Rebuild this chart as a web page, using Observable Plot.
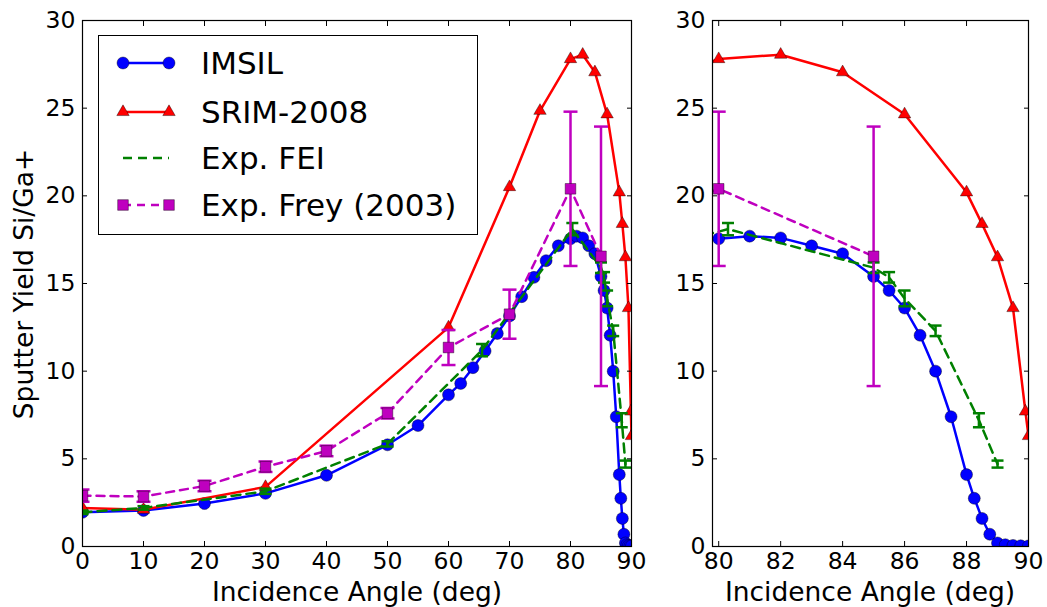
<!DOCTYPE html>
<html>
<head>
<meta charset="utf-8">
<script src="https://cdn.jsdelivr.net/npm/d3@7"></script>
<script src="https://cdn.jsdelivr.net/npm/@observablehq/plot@0.6"></script>
<style>
  html, body { margin: 0; padding: 0; background: #fff; }
  #wrap { position: relative; width: 1047px; height: 607px; font-family: "DejaVu Sans", sans-serif; color: #000; }
  #wrap svg.plot { position: absolute; top: 0; }
  .lbl { position: absolute; white-space: nowrap; line-height: 1; font-size: 26.5px; }
  #legend { position: absolute; left: 98px; top: 35px; width: 378px; height: 198px; border: 1.5px solid #000; background: #fff; }
  .ltxt { position: absolute; left: 200px; font-size: 31px; line-height: 36px; height: 36px; white-space: nowrap; }
</style>
</head>
<body>
<div id="wrap"></div>
<script>
// ---- data ----
const imsilAngle = [0,10,20,30,40,50,55,60,62,64,66,68,70,72,74,76,78,80,81,82,83,84,85,85.5,86,86.5,87,87.5,88,88.25,88.5,88.75,89,89.25,89.5,89.75,90];
const imsilYield = [1.95,2.05,2.45,3.03,4.06,5.8,6.9,8.65,9.3,10.2,11.15,12.15,13.15,14.25,15.35,16.3,17.15,17.55,17.7,17.6,17.15,16.7,15.4,14.6,13.6,12.05,10.0,7.4,4.1,2.75,1.6,0.7,0.2,0.1,0.06,0.04,0.03];

const srimAngle = [0,10,30,60,70,75,80,82,84,86,88,88.5,89,89.5,89.9,90];
const srimYield = [2.2,2.1,3.4,12.5,20.5,24.85,27.8,28.05,27.05,24.65,20.2,18.4,16.5,13.6,7.7,6.3];

const feiAngle = [0,10,30,50,65.5,80.3,85,85.5,86,87,88.4,89];
const feiYield = [1.95,2.2,3.15,5.85,11.2,18.1,15.9,15.35,14.15,12.3,7.2,4.7];
const feiErr   = [0.1,0.1,0.15,0.15,0.35,0.35,0.3,0.3,0.45,0.3,0.4,0.2];

const freyAngle = [0,10,20,30,40,50,60,70,80,85];
const freyYield = [2.9,2.85,3.45,4.55,5.45,7.6,11.35,13.25,20.4,16.55];
const freyErr   = [0.35,0.3,0.3,0.3,0.3,0.3,1.0,1.4,4.4,7.4];

const yTicks = [0,5,10,15,20,25,30];
const leftXTicks = [0,10,20,30,40,50,60,70,80,90];
const rightXTicks = [80,82,84,86,88,90];

const seriesNames = ["IMSIL","SRIM-2008","Exp. FEI","Exp. Frey (2003)"];
const xLabel = "Incidence Angle (deg)";
const yLabel = "Sputter Yield Si/Ga+";

// ---- tables ----
const imsil = imsilAngle.map((a,i)=>({a, y: imsilYield[i]}));
const srim  = srimAngle.map((a,i)=>({a, y: srimYield[i]}));
const fei   = feiAngle.map((a,i)=>({a, y: feiYield[i], e: feiErr[i]}));
const frey  = freyAngle.map((a,i)=>({a, y: freyYield[i], e: freyErr[i]}));

const blue="#0000ff", red="#ff0000", green="#008000", magenta="#bf00bf";
const cap = w => ({draw(ctx){ ctx.moveTo(-w,0); ctx.lineTo(w,0); }});

function panel({xDomain, xTicks, width, marginLeft, marginRight}) {
  return Plot.plot({
    width, height: 607,
    marginLeft, marginRight, marginTop: 20, marginBottom: 61,
    style: {fontSize: "23.5px", fontFamily: "DejaVu Sans", color: "#000", background: "transparent", overflow: "visible"},
    x: {domain: xDomain, ticks: xTicks},
    y: {domain: [0,30], ticks: yTicks},
    marks: [
      // IMSIL
      Plot.line(imsil, {x:"a", y:"y", stroke: blue, strokeWidth: 2.5, clip: true}),
      Plot.dot(imsil, {x:"a", y:"y", symbol:"circle", r: 6, fill: blue, stroke: "#000", strokeWidth: 0.4, clip: true}),
      // SRIM
      Plot.line(srim, {x:"a", y:"y", stroke: red, strokeWidth: 2.5, clip: true}),
      Plot.dot(srim, {x:"a", y:"y", symbol:"triangle", r: 4.6, fill: red, stroke: "#000", strokeWidth: 0.4, clip: true}),
      // FEI
      Plot.line(fei, {x:"a", y:"y", stroke: green, strokeWidth: 2.5, strokeDasharray: "9,6", clip: true}),
      Plot.ruleX(fei, {x:"a", y1: d=>d.y-d.e, y2: d=>d.y+d.e, stroke: green, strokeWidth: 2.5, clip: true}),
      Plot.dot(fei, {x:"a", y: d=>d.y-d.e, symbol: cap(6), stroke: green, strokeWidth: 2.5, fill: "none", clip: true}),
      Plot.dot(fei, {x:"a", y: d=>d.y+d.e, symbol: cap(6), stroke: green, strokeWidth: 2.5, fill: "none", clip: true}),
      // Frey
      Plot.line(frey, {x:"a", y:"y", stroke: magenta, strokeWidth: 2.5, strokeDasharray: "8,6", clip: true}),
      Plot.ruleX(frey, {x:"a", y1: d=>d.y-d.e, y2: d=>d.y+d.e, stroke: magenta, strokeWidth: 2.5, clip: true}),
      Plot.dot(frey, {x:"a", y: d=>d.y-d.e, symbol: cap(7), stroke: magenta, strokeWidth: 2.5, fill: "none", clip: true}),
      Plot.dot(frey, {x:"a", y: d=>d.y+d.e, symbol: cap(7), stroke: magenta, strokeWidth: 2.5, fill: "none", clip: true}),
      Plot.dot(frey, {x:"a", y:"y", symbol:"square", r: 6, fill: magenta, stroke: "#000", strokeWidth: 0.4, clip: true}),
      // axes & frame
      Plot.frame({stroke: "#000", strokeWidth: 1.2}),
      Plot.axisX({anchor: "bottom", ticks: xTicks, tickSize: -5, tickPadding: 11, label: null}),
      Plot.axisX({anchor: "top", ticks: xTicks, tickSize: -5, tickFormat: () => "", label: null}),
      Plot.axisY({anchor: "left", ticks: yTicks, tickSize: -5, tickPadding: 12, label: null}),
      Plot.axisY({anchor: "right", ticks: yTicks, tickSize: -5, tickFormat: () => "", label: null})
    ]
  });
}

const wrap = document.getElementById("wrap");
const left = panel({xDomain: [0,90], xTicks: leftXTicks, width: 660, marginLeft: 82, marginRight: 29});
left.classList.add("plot"); left.style.left = "0px";
wrap.appendChild(left);
const right = panel({xDomain: [79.8,90], xTicks: rightXTicks, width: 387, marginLeft: 52, marginRight: 19});
right.classList.add("plot"); right.style.left = "660px";
wrap.appendChild(right);

// axis labels
function addLabel(text, cx, top) {
  const d = document.createElement("div");
  d.className = "lbl"; d.textContent = text;
  d.style.left = cx + "px"; d.style.top = top + "px"; d.style.transform = "translateX(-50%)";
  wrap.appendChild(d);
}
addLabel(xLabel, 357, 579);
addLabel(xLabel, 870, 579);
const yl = document.createElement("div");
yl.className = "lbl"; yl.textContent = yLabel;
yl.style.left = "24px"; yl.style.top = "284px";
yl.style.transform = "translate(-50%,-50%) rotate(-90deg)";
wrap.appendChild(yl);

// legend
const legend = document.createElement("div");
legend.id = "legend";
wrap.appendChild(legend);
const rowsY = [62, 111, 157, 204];
const styles = [
  {stroke: blue, dash: null, marker: "circle", fill: blue},
  {stroke: red, dash: null, marker: "triangle", fill: red},
  {stroke: green, dash: "9,6", marker: null},
  {stroke: magenta, dash: "8,6", marker: "square", fill: magenta}
];
const ns = "http://www.w3.org/2000/svg";
seriesNames.forEach((name, i) => {
  const s = styles[i];
  const svg = document.createElementNS(ns, "svg");
  svg.setAttribute("width", 70); svg.setAttribute("height", 24);
  svg.style.position = "absolute"; svg.style.left = (112 - 98) + "px"; svg.style.top = (rowsY[i] - 35 - 12) + "px";
  const ln = document.createElementNS(ns, "line");
  ln.setAttribute("x1", 10); ln.setAttribute("x2", 56); ln.setAttribute("y1", 12); ln.setAttribute("y2", 12);
  ln.setAttribute("stroke", s.stroke); ln.setAttribute("stroke-width", 2.5);
  if (s.dash) ln.setAttribute("stroke-dasharray", s.dash);
  svg.appendChild(ln);
  if (s.marker) {
    [10, 56].forEach(cx => {
      const p = document.createElementNS(ns, "path");
      const sym = s.marker === "circle" ? d3.symbolCircle : s.marker === "triangle" ? d3.symbolTriangle : d3.symbolSquare;
      const r = s.marker === "triangle" ? 4.6 : 6;
      p.setAttribute("d", d3.symbol(sym, Math.PI * r * r)());
      p.setAttribute("transform", `translate(${cx},12)`);
      p.setAttribute("fill", s.fill); p.setAttribute("stroke", "#000"); p.setAttribute("stroke-width", 0.4);
      svg.appendChild(p);
    });
  }
  legend.appendChild(svg);
  const t = document.createElement("div");
  t.className = "ltxt"; t.textContent = name;
  t.style.left = (200 - 98) + "px"; t.style.top = (rowsY[i] - 35 - 18) + "px";
  legend.appendChild(t);
});
</script>
</body>
</html>
